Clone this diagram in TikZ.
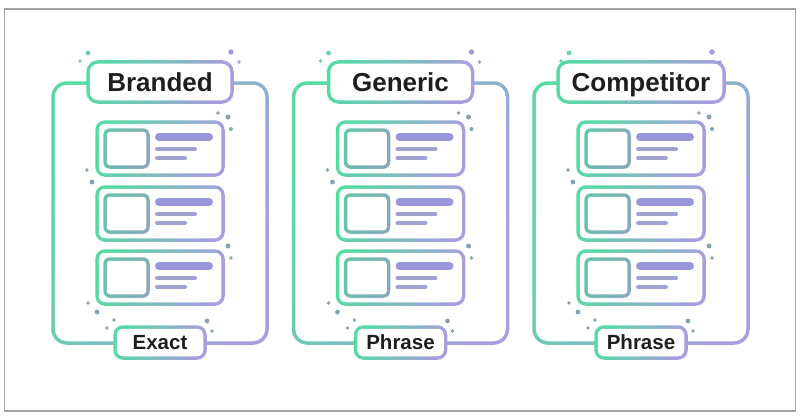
\documentclass[tikz,border=0pt]{standalone}
\usepackage{fontspec}
\setmainfont{Liberation Sans}
\definecolor{gA}{HTML}{55DBA2}
\definecolor{gB}{HTML}{A99DE0}
\definecolor{sqA}{HTML}{66C4A8}
\definecolor{sqB}{HTML}{89A8BE}
\definecolor{barc}{HTML}{9A96DA}
\definecolor{lnc}{HTML}{A0A2D2}
\definecolor{txt}{HTML}{1E1E1E}
\definecolor{dG}{HTML}{6AD3A6}
\definecolor{dP}{HTML}{9F99D6}
\definecolor{dM}{HTML}{84A2B0}
\definecolor{frm}{HTML}{A3A3A3}
% gradient-stroked rounded box: x1 y1 x2 y2 radius linewidth colorA colorB
\newcommand\gbox[8]{%
 \shade[left color=#7, right color=#8, shading angle=70, rounded corners={#5pt+#6pt/2}] ({#1-#6/2},{#2-#6/2}) rectangle ({#3+#6/2},{#4+#6/2});
 \fill[white, rounded corners={#5pt-#6pt/2}] ({#1+#6/2},{#2+#6/2}) rectangle ({#3-#6/2},{#4-#6/2});}
\newcommand\card[1]{% top y
 \gbox{97}{#1}{223}{#1+53}{8}{3.5}{gA}{gB}
 \gbox{105}{#1+8}{148}{#1+45}{5}{3.5}{sqA}{sqB}
 \draw[barline] (159,#1+15) -- (209,#1+15);
 \draw[txtline] (157,#1+27) -- (195,#1+27);
 \draw[txtline] (157,#1+36) -- (185,#1+36);}
\newcommand\panel[5]{% shift, name, title, title half width, bottom text
 \begin{scope}[xshift=#1pt]
 \gbox{53}{83}{267}{343}{14}{3.5}{gA}{gB}
 \card{122}\card{187}\card{251}
 \gbox{160-#4}{62}{160+#4}{102}{10}{3.5}{gA}{gB}
 \gbox{115}{327}{205}{358}{8}{3.5}{gA}{gB}
 \node[titletext] (#2title) at (160,91.3) {#3};
 \node[subtext] (#2match) at (160,349.9) {#5};
 \fill[dG] (88,53) circle (2.4); \fill[dG] (80,61) circle (1.8);
 \fill[dP] (231,52) circle (2.7); \fill[dP] (239,62) circle (1.8);
 \fill[dM] (218,113) circle (1.8); \fill[dM] (228,117) circle (2.5); \fill[dM] (231,129) circle (2);
 \fill[dM] (87,170) circle (1.8); \fill[dM] (92,182) circle (2.4);
 \fill[dM] (228,246) circle (2.5); \fill[dM] (231,258) circle (1.9);
 \fill[dM] (88,303) circle (1.9); \fill[dM] (97,312) circle (2.4);
 \fill[dM] (114,320) circle (1.9); \fill[dM] (107,328) circle (1.9);
 \fill[dM] (207,321) circle (2.4); \fill[dM] (212,331) circle (1.9);
 \end{scope}}
\begin{document}
\begin{tikzpicture}[x=1pt,y=-1pt,
 barline/.style={barc, line width=8pt, line cap=round},
 txtline/.style={lnc, line width=4pt, line cap=round},
 titletext/.style={anchor=base, inner sep=0pt, text=txt, font=\fontsize{26}{30}\selectfont\bfseries},
 subtext/.style={anchor=base, inner sep=0pt, text=txt, font=\fontsize{20.5}{24}\selectfont\bfseries}]
\useasboundingbox (0,0) rectangle (800,420);
\fill[white] (0,0) rectangle (800,420);
\draw[frm, line width=1.6pt] (4.5,9) rectangle (795.5,411);
\panel{0}{b}{Branded}{72}{Exact}
\panel{240.5}{g}{Generic}{72}{Phrase}
\panel{481}{c}{Competitor}{83}{Phrase}
\end{tikzpicture}
\end{document}
